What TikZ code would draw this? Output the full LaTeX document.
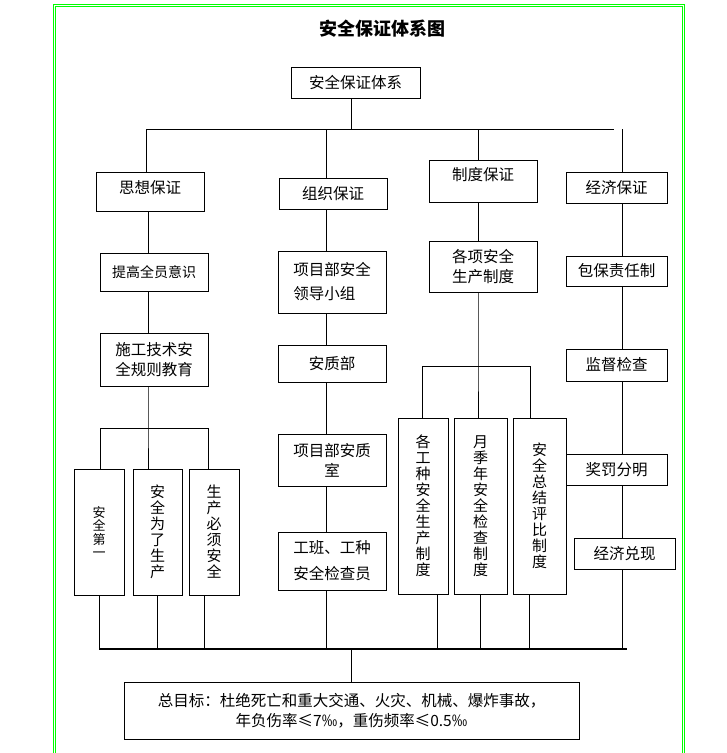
\documentclass[tikz,border=0pt]{standalone}
\usepackage{fontspec}
\setmainfont{Noto Sans CJK SC}
\usepackage{tikz}
\definecolor{framegreen}{RGB}{0,255,0}
\tikzset{box/.style={draw, line width=0.9pt, inner sep=2pt, font=\fontsize{15.5}{21}\selectfont},
  vbox/.style={box, align=center, font=\fontsize{15}{16}\selectfont},
  link/.style={line width=0.9pt},
  frame/.style={draw=framegreen, line width=0.8pt}}

\begin{document}
\begin{tikzpicture}[x=1pt,y=-1pt]
\useasboundingbox (0,0) rectangle (727,753);
\draw[frame] (53.3,753)--(53.3,4.3)--(684.3,4.3)--(684.3,753);
\draw[frame] (55.3,753)--(55.3,6.3)--(682.3,6.3)--(682.3,753);
\node[font=\bfseries\fontsize{18}{20}\selectfont] (title) at (382,29) {安全保证体系图};
\node[box, minimum width=129pt, minimum height=31pt] (top) at (355.5,82.5) {安全保证体系};
\node[box, minimum width=108pt, minimum height=39pt] (sx) at (150,191.5) {\raisebox{4pt}[\height][\depth]{思想保证}};
\node[box, minimum width=108pt, minimum height=31pt] (zz) at (333,193.5) {组织保证};
\node[box, minimum width=108pt, minimum height=42pt] (zd) at (483,181) {\raisebox{6pt}[\height][\depth]{制度保证}};
\node[box, minimum width=101pt, minimum height=31pt] (jj) at (616.5,187.5) {经济保证};
\node[box, minimum width=108pt, minimum height=38pt, font=\fontsize{14}{18}\selectfont] (tg) at (154,272) {提高全员意识};
\node[box, minimum width=108pt, minimum height=53pt, align=left, font=\fontsize{15.5}{20}\selectfont] (sg) at (154,359.5) {施工技术安\\全规则教育};
\node[vbox, minimum width=50pt, minimum height=126pt, font=\fontsize{13}{13.5}\selectfont] (a1) at (99,532) {安\\全\\第\\一};
\node[vbox, minimum width=49pt, minimum height=126pt] (a2) at (157.5,532) {安\\全\\为\\了\\生\\产};
\node[vbox, minimum width=50pt, minimum height=126pt] (a3) at (214,532) {生\\产\\必\\须\\安\\全};
\node[box, minimum width=108pt, minimum height=62pt, align=left, font=\fontsize{15.5}{24}\selectfont] (xm) at (332,282) {项目部安全\\领导小组};
\node[box, minimum width=108pt, minimum height=37pt] (aq) at (332,363.5) {安质部};
\node[box, minimum width=108pt, minimum height=52pt, align=center, font=\fontsize{15.5}{20}\selectfont] (ss) at (332,460) {项目部安质\\室};
\node[box, minimum width=108pt, minimum height=58pt, align=left, font=\fontsize{15.5}{26}\selectfont] (gb) at (332,561) {工班、工种\\安全检查员};
\node[box, minimum width=108pt, minimum height=51pt, align=center, font=\fontsize{15.5}{20}\selectfont] (gx) at (483,266.5) {各项安全\\生产制度};
\node[vbox, minimum width=50pt, minimum height=176pt] (b1) at (423,506) {各\\工\\种\\安\\全\\生\\产\\制\\度};
\node[vbox, minimum width=53pt, minimum height=176pt] (b2) at (480.5,506) {月\\季\\年\\安\\全\\检\\查\\制\\度};
\node[vbox, minimum width=53pt, minimum height=176pt] (b3) at (539.5,506) {安\\全\\总\\结\\评\\比\\制\\度};
\node[box, minimum width=101pt, minimum height=30pt] (bb) at (616.5,271) {包保责任制};
\node[box, minimum width=101pt, minimum height=32pt] (jd) at (616.5,365) {监督检查};
\node[box, minimum width=101pt, minimum height=31pt] (jf) at (616.5,469.5) {奖罚分明};
\node[box, minimum width=101pt, minimum height=31pt] (jx) at (624.5,553.5) {经济兑现};
\node[box, minimum width=455pt, minimum height=57pt, align=center, font=\fontsize{15.5}{19.5}\selectfont] (goal) at (351.5,710.5) {总目标：杜绝死亡和重大交通、火灾、机械、爆炸事故，\\年负伤率≤7‰，重伤频率≤0.5‰};
\coordinate (k0) at (351,129);
\coordinate (k1) at (146.5,129);
\coordinate (kR) at (614,129);
\coordinate (x1) at (148,0);
\coordinate (x2) at (326,0);
\coordinate (x3) at (478,0);
\coordinate (x4) at (622,0);
\coordinate (xa) at (204,0);
\coordinate (xb) at (437,0);
\coordinate (xd) at (529,0);
\coordinate (hl) at (100,428);
\coordinate (hr) at (208,428);
\coordinate (ml) at (422,366);
\coordinate (mr) at (530,366);
\coordinate (bl) at (99,649);
\coordinate (br) at (627,649);
\draw[link] (top.south -| k0)--(k0);
\draw[link] (k1)--(kR);
\draw[link] (k1)--(k1 |- sx.north);
\draw[link] (x2 |- k1)--(zz.north -| x2);
\draw[link] (x3 |- k1)--(zd.north -| x3);
\draw[link] (x4 |- k1)--(jj.north -| x4);
\foreach \a/\b in {sx/tg, tg/sg}
  \draw[link] (\a.south -| x1)--(\b.north -| x1);
\draw[link] (sg.south -| x1)--(x1 |- hl)--(a2.north -| x1);
\draw[link] (hl)--(hr);
\draw[link] (hl)--(hl |- a1.north);
\draw[link] (hr)--(hr |- a3.north);
\foreach \a/\b in {zz/xm, xm/aq, aq/ss, ss/gb}
  \draw[link] (\a.south -| x2)--(\b.north -| x2);
\draw[link] (zd.south -| x3)--(gx.north -| x3);
\draw[link] (gx.south -| x3)--(x3 |- ml)--(b2.north -| x3);
\draw[link] (ml)--(mr);
\draw[link] (ml)--(ml |- b1.north);
\draw[link] (mr)--(mr |- b3.north);
\foreach \a/\b in {jj/bb, bb/jd, jd/jf, jf/jx}
  \draw[link] (\a.south -| x4)--(\b.north -| x4);
\draw[line width=1.6pt] (bl)--(br);
\draw[link] (a1.south)--(a1.south |- bl);
\draw[link] (a2.south)--(a2.south |- bl);
\draw[link] (a3.south -| xa)--(xa |- bl);
\draw[link] (gb.south -| x2)--(x2 |- bl);
\draw[link] (b1.south -| xb)--(xb |- bl);
\draw[link] (b2.south)--(b2.south |- bl);
\draw[link] (b3.south -| xd)--(xd |- bl);
\draw[link] (jx.south -| x4)--(x4 |- bl);
\draw[link] (goal.north)--(goal.north |- bl);
\end{tikzpicture}
\end{document}
